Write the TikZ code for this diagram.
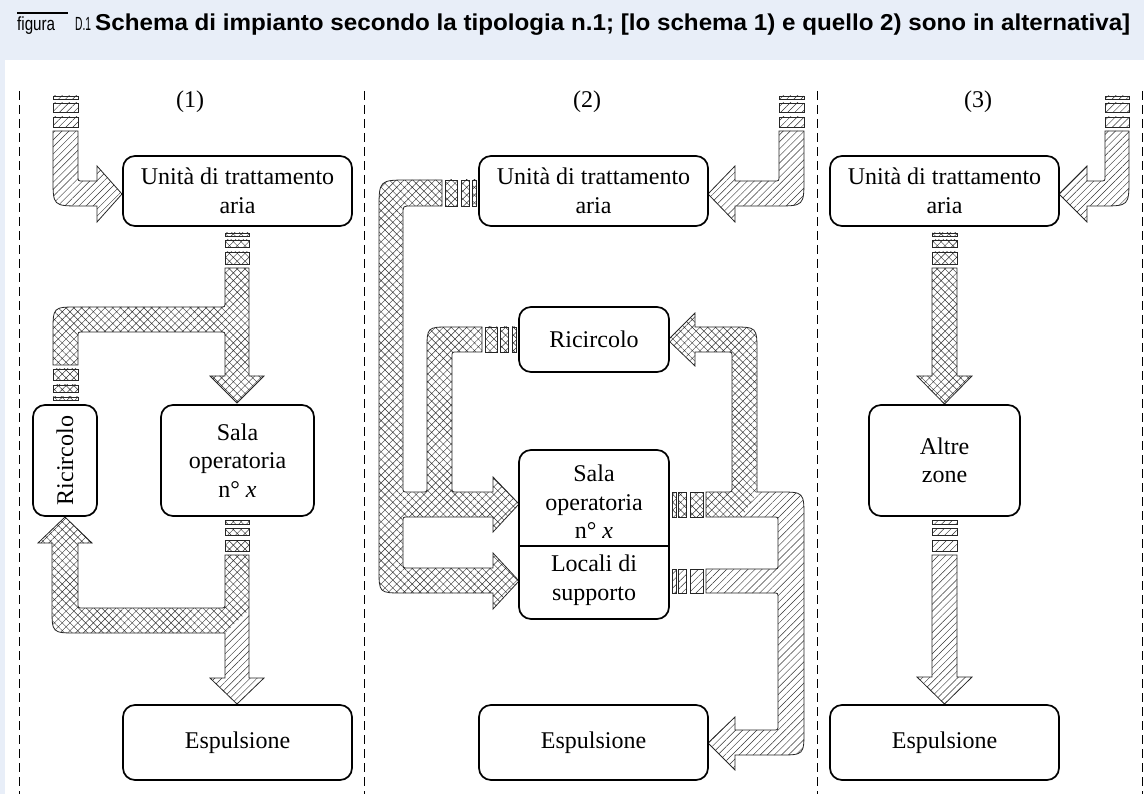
\documentclass[tikz,border=0pt]{standalone}
\usepackage{fontspec}
\setmainfont{Liberation Serif}
\newfontfamily\titlefont{Liberation Sans}
\usetikzlibrary{patterns.meta}
\definecolor{bgblue}{RGB}{232,238,248}
\newcommand\boxfont{\fontsize{24}{28.5}\selectfont}
\begin{document}
\begin{tikzpicture}[x=1pt,y=-1pt,
  ductA/.style={pattern={Lines[angle=45,distance=5pt,line width=0.45pt]}, pattern color=black!80},
  ductX/.style={pattern={Hatch[angle=45,distance=5.5pt,line width=0.45pt]}, pattern color=black!80},
  outl/.style={draw=black!85, line width=0.8pt},
  roombox/.style={draw, fill=white, line width=1.7pt, rounded corners=12pt, inner sep=0pt, align=center, font=\boxfont},
  lbl/.style={inner sep=0pt, font=\boxfont, align=center},
  sepline/.style={dash pattern=on 9pt off 5pt, line width=0.9pt}]
\useasboundingbox (0,0) rectangle (1144,794);
\fill[bgblue] (0,0) rectangle (1144,794);
\fill[white] (5,60) rectangle (1144,794);

% title
\draw[line width=2pt] (17,13) -- (68,13);
\node[anchor=base west, inner sep=0pt] (fig) at (17,31) {\resizebox{38pt}{\height}{\titlefont\fontsize{19}{19}\selectfont figura}};
\node[anchor=base west, inner sep=0pt] (dnum) at (75,31) {\resizebox{16pt}{\height}{\titlefont\fontsize{19}{19}\selectfont D.1}};
\node[anchor=base west, inner sep=0pt] (title) at (95,31) {\resizebox{1035pt}{\height}{\titlefont\bfseries\fontsize{23}{23}\selectfont Schema di impianto secondo la tipologia n.1; [lo schema 1) e quello 2) sono in alternativa]}};

% separators
\foreach \xx/\nm in {19/s0,364/s1,817/s2,1142/s3}{
  \coordinate (\nm t) at (\xx,91); \coordinate (\nm b) at (\xx,794);
  \draw[sepline] (\nm t) -- (\nm b);
}

% column labels
\node[lbl] (l1) at (190,102) {(1)};
\node[lbl] (l2) at (587,102) {(2)};
\node[lbl] (l3) at (978,102) {(3)};

% ================= column 1
% inlet
\foreach \ya/\yb in {96/99,103/112,117/127}{\draw[ductA,outl] (53,\ya) rectangle (78,\yb);}
\draw[ductA,outl] (53,131) -- (53,178) .. controls (53,206) .. (81,206) -- (97,206) -- (97,222) -- (122,194) -- (97,166) -- (97,181) -- (83,181) .. controls (78,181) .. (78,176) -- (78,131) -- cycle;
% supply
\foreach \ya/\yb in {233/236,240/247,252/264}{\draw[ductX,outl] (225,\ya) rectangle (249,\yb);}
\draw[ductX,outl] (225,268) -- (249,268) -- (249,376) -- (264,376) -- (237,403) -- (210,376) -- (225,376) -- (225,337) .. controls (225,332) .. (220,332) -- (83,332) .. controls (78,332) .. (78,337) -- (78,365) -- (53,365) -- (53,332) .. controls (53,307) .. (78,307) -- (220,307) .. controls (225,307) .. (225,302) -- cycle;
\foreach \ya/\yb in {369/380,385/392,397/400}{\draw[ductX,outl] (53,\ya) rectangle (78,\yb);}
% return / exhaust
\foreach \ya/\yb in {520/524,528/535,540/551}{\draw[ductX,outl] (225,\ya) rectangle (249,\yb);}
\fill[ductX] (225,555) -- (249,555) -- (249,610) -- (225,633) -- (77,633) .. controls (52,633) .. (52,608) -- (52,543) -- (38,543) -- (65,517) -- (92,543) -- (78,543) -- (78,603) .. controls (78,608) .. (83,608) -- (220,608) .. controls (225,608) .. (225,603) -- cycle;
\fill[ductA] (249,610) -- (249,678) -- (264,678) -- (237,704) -- (210,678) -- (225,678) -- (225,633) -- cycle;
\draw[outl] (225,555) -- (249,555) -- (249,678) -- (264,678) -- (237,704) -- (210,678) -- (225,678) -- (225,633) -- (77,633) .. controls (52,633) .. (52,608) -- (52,543) -- (38,543) -- (65,517) -- (92,543) -- (78,543) -- (78,603) .. controls (78,608) .. (83,608) -- (220,608) .. controls (225,608) .. (225,603) -- cycle;

\node[roombox, minimum width=229pt, minimum height=70pt] (uta1) at (237.5,191) {Unità di trattamento\\aria};
\node[roombox, minimum width=64pt, minimum height=111pt] (ric1) at (65,460.5) {};
\node[lbl, rotate=90] (ric1t) at (ric1.center) {Ricircolo};
\node[roombox, minimum width=153pt, minimum height=111pt] (sala1) at (237.5,460.5) {Sala\\operatoria\\n° \textit{x}};
\node[roombox, minimum width=229pt, minimum height=75pt] (esp1) at (237.5,742.5) {Espulsione};

% ================= column 2
\foreach \ya/\yb in {96/99,103/112,117/127}{\draw[ductA,outl] (779,\ya) rectangle (804,\yb);}
\draw[ductA,outl] (779,131) -- (804,131) -- (804,178) .. controls (804,206) .. (776,206) -- (735,206) -- (735,222) -- (708,194) -- (735,166) -- (735,181) -- (774,181) .. controls (779,181) .. (779,176) -- cycle;
% supply
\foreach \xa/\xb in {445/457,461/469,472/476}{\draw[ductX,outl] (\xa,180) rectangle (\xb,206);}
\foreach \xa/\xb in {485/497,500/508,512/516}{\draw[ductX,outl] (\xa,327) rectangle (\xb,352);}
\draw[ductX,outl] (442,180) -- (409,180) .. controls (379,180) .. (379,210) -- (379,569) .. controls (379,593) .. (403,593) -- (493,593) -- (493,609) -- (519,581) -- (493,553) -- (493,568) -- (408,568) .. controls (403,568) .. (403,563) -- (403,522) .. controls (403,517) .. (408,517) -- (493,517) -- (493,532) -- (519,504) -- (493,477) -- (493,492) -- (457,492) .. controls (452,492) .. (452,487) -- (452,357) .. controls (452,352) .. (457,352) -- (482,352) -- (482,327) -- (450,327) .. controls (427,327) .. (427,350) -- (427,487) .. controls (427,492) .. (422,492) -- (408,492) .. controls (403,492) .. (403,487) -- (403,214) .. controls (403,206) .. (411,206) -- (442,206) -- cycle;
% return and exhaust
\foreach \xa/\xb in {672/676,678/686,690/703}{\draw[ductX,outl] (\xa,492) rectangle (\xb,517);}
\foreach \xa/\xb in {672/676,678/686,690/703}{\draw[ductA,outl] (\xa,569) rectangle (\xb,593);}
\fill[ductX] (706,492) -- (727,492) .. controls (732,492) .. (732,487) -- (732,357) .. controls (732,352) .. (727,352) -- (695,352) -- (695,366) -- (668,340) -- (695,313) -- (695,327) -- (732,327) .. controls (757,327) .. (757,352) -- (757,492) -- (742,517) -- (706,517) -- cycle;
\fill[ductA] (757,492) -- (779,492) .. controls (804,492) .. (804,518) -- (804,730) .. controls (804,755) .. (779,755) -- (735,755) -- (735,770) -- (708,743) -- (735,717) -- (735,730) -- (773,730) .. controls (778,730) .. (778,725) -- (778,598) .. controls (778,593) .. (773,593) -- (706,593) -- (706,569) -- (773,569) .. controls (778,569) .. (778,564) -- (778,522) .. controls (778,517) .. (773,517) -- (742,517) -- cycle;
\draw[outl] (706,492) -- (727,492) .. controls (732,492) .. (732,487) -- (732,357) .. controls (732,352) .. (727,352) -- (695,352) -- (695,366) -- (668,340) -- (695,313) -- (695,327) -- (732,327) .. controls (757,327) .. (757,352) -- (757,492) -- (779,492) .. controls (804,492) .. (804,518) -- (804,730) .. controls (804,755) .. (779,755) -- (735,755) -- (735,770) -- (708,743) -- (735,717) -- (735,730) -- (773,730) .. controls (778,730) .. (778,725) -- (778,598) .. controls (778,593) .. (773,593) -- (706,593) -- (706,569) -- (773,569) .. controls (778,569) .. (778,564) -- (778,522) .. controls (778,517) .. (773,517) -- (706,517) -- cycle;

\node[roombox, minimum width=229pt, minimum height=70pt] (uta2) at (593.5,191) {Unità di trattamento\\aria};
\node[roombox, minimum width=150pt, minimum height=65pt] (ric2) at (594,339.5) {Ricircolo};
\node[roombox, minimum width=150pt, minimum height=169pt] (sala2) at (594,534.5) {};
\coordinate (divl) at (519,546); \coordinate (divr) at (669,546);
\draw[line width=1.7pt] (divl) -- (divr);
\node[lbl] (sala2t) at (594,502) {Sala\\operatoria\\n° \textit{x}};
\node[lbl] (loc2t) at (594,580) {Locali di\\supporto};
\node[roombox, minimum width=229pt, minimum height=75pt] (esp2) at (593.5,742.5) {Espulsione};

% ================= column 3
\foreach \ya/\yb in {96/99,103/112,117/127}{\draw[ductA,outl] (1105,\ya) rectangle (1129,\yb);}
\draw[ductA,outl] (1105,131) -- (1129,131) -- (1129,178) .. controls (1129,206) .. (1101,206) -- (1087,206) -- (1087,222) -- (1059,194) -- (1087,166) -- (1087,181) -- (1100,181) .. controls (1105,181) .. (1105,176) -- cycle;
\foreach \ya/\yb in {233/236,240/247,252/264}{\draw[ductX,outl] (932,\ya) rectangle (957,\yb);}
\draw[ductX,outl] (932,268) -- (957,268) -- (957,376) -- (972,376) -- (944.5,404) -- (917,376) -- (932,376) -- cycle;
\foreach \ya/\yb in {520/524,528/535,540/551}{\draw[ductA,outl] (932,\ya) rectangle (957,\yb);}
\draw[ductA,outl] (932,555) -- (957,555) -- (957,677) -- (972,677) -- (944.5,704) -- (917,677) -- (932,677) -- cycle;

\node[roombox, minimum width=229pt, minimum height=70pt] (uta3) at (944.5,191) {Unità di trattamento\\aria};
\node[roombox, minimum width=151pt, minimum height=111pt] (altre) at (944.5,460.5) {Altre\\zone};
\node[roombox, minimum width=229pt, minimum height=75pt] (esp3) at (944.5,742.5) {Espulsione};
\end{tikzpicture}
\end{document}
